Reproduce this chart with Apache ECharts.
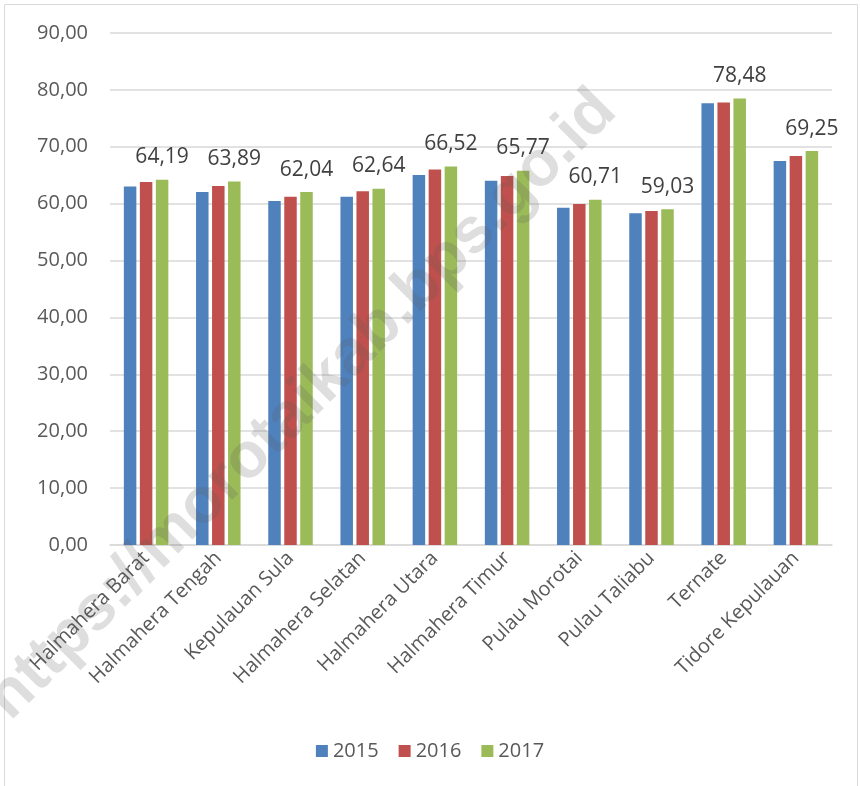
<!DOCTYPE html>
<html>
<head>
<meta charset="utf-8">
<script src="https://cdn.jsdelivr.net/npm/echarts@6/dist/echarts.min.js"></script>
<style>
  html, body { margin: 0; padding: 0; background: #fff; }
  #chart { width: 860px; height: 786px; }
</style>
</head>
<body>
<div id="chart"></div>
<script>
// Regencies / cities of Maluku Utara
const categories = [
  'Halmahera Barat', 'Halmahera Tengah', 'Kepulauan Sula', 'Halmahera Selatan',
  'Halmahera Utara', 'Halmahera Timur', 'Pulau Morotai', 'Pulau Taliabu',
  'Ternate', 'Tidore Kepulauan'
];
const years = ['2015', '2016', '2017'];
const values2015 = [63.00, 62.05, 60.48, 61.20, 65.05, 64.04, 59.30, 58.30, 77.65, 67.50];
const values2016 = [63.80, 63.10, 61.22, 62.20, 66.02, 64.88, 59.92, 58.72, 77.80, 68.40];
const values2017 = [64.19, 63.89, 62.04, 62.64, 66.52, 65.77, 60.71, 59.03, 78.48, 69.25];
const yTicks = { min: 0, max: 90, interval: 10 };

const colors = ['#4f81bd', '#c0504d', '#9bbb59'];
const font = '"Open Sans", "Liberation Sans", sans-serif';
const fmt = v => v.toFixed(2).replace('.', ',');

const chart = echarts.init(document.getElementById('chart'), null, { renderer: 'canvas' });

function barSeries(name, data, color, withLabel) {
  return {
    name: name,
    type: 'bar',
    data: data,
    barWidth: 12.5,
    barGap: '28%',
    itemStyle: { color: color },
    label: withLabel ? {
      show: true,
      position: 'top',
      distance: 12,
      formatter: p => fmt(p.value),
      fontFamily: font,
      fontSize: 21,
      color: '#404040'
    } : { show: false }
  };
}

chart.setOption({
  animation: false,
  color: colors,
  textStyle: { fontFamily: font },
  grid: { left: 110, right: 28, top: 33, bottom: 241, containLabel: false },
  legend: {
    data: years,
    bottom: 20,
    left: 'center',
    itemWidth: 12,
    itemHeight: 12,
    itemGap: 20,
    icon: 'rect',
    textStyle: { fontFamily: font, fontSize: 20, color: '#595959' }
  },
  xAxis: {
    type: 'category',
    data: categories,
    axisLine: { lineStyle: { color: '#d9d9d9', width: 1.5 } },
    axisTick: { show: false },
    axisLabel: {
      rotate: 45,
      margin: 10,
      interval: 0,
      fontFamily: font,
      fontSize: 20,
      color: '#595959'
    }
  },
  yAxis: {
    type: 'value',
    min: yTicks.min,
    max: yTicks.max,
    interval: yTicks.interval,
    axisLine: { show: false },
    axisTick: { show: false },
    splitLine: { lineStyle: { color: '#d9d9d9', width: 1.5 } },
    axisLabel: {
      margin: 22,
      formatter: v => fmt(v),
      fontFamily: font,
      fontSize: 20,
      color: '#595959'
    }
  },
  series: [
    barSeries(years[0], values2015, colors[0], false),
    barSeries(years[1], values2016, colors[1], false),
    barSeries(years[2], values2017, colors[2], true)
  ],
  graphic: [
    {
      type: 'rect',
      shape: { x: 4.5, y: 4.5, width: 853, height: 800 },
      style: { fill: 'none', stroke: '#d9d9d9', lineWidth: 1 },
      silent: true,
      z: 0
    },
    {
      type: 'text',
      x: 302,
      y: 405,
      rotation: Math.PI / 4,
      style: {
        text: 'https://morotaikab.bps.go.id',
        fontFamily: '"Liberation Sans", Arial, sans-serif',
        fontWeight: 'bold',
        fontSize: 64,
        fill: 'rgba(90,90,90,0.2)',
        textAlign: 'center',
        textVerticalAlign: 'middle'
      },
      silent: true,
      z: 100
    }
  ]
});
</script>
</body>
</html>
